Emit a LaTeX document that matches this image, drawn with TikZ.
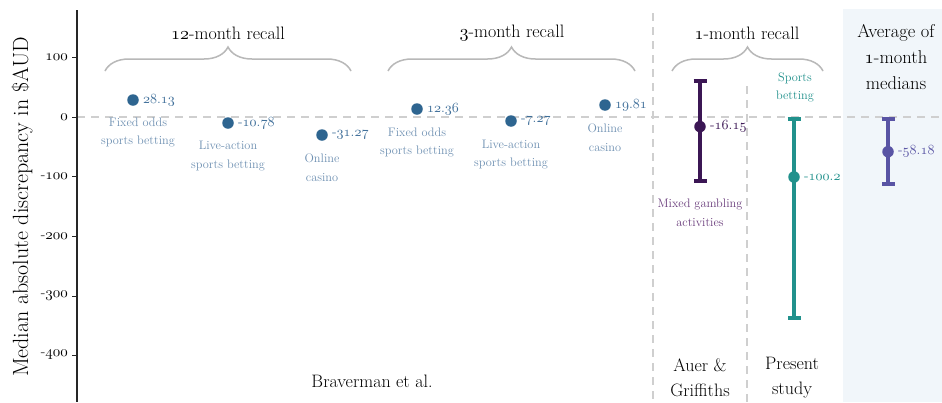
\documentclass[tikz,border=0pt]{standalone}
\usetikzlibrary{decorations.pathreplacing,arrows.meta}
\definecolor{ptblue}{HTML}{2E6590}
\definecolor{catblue}{HTML}{6E90B2}
\definecolor{valblue}{HTML}{3E6E99}
\definecolor{dpurple}{HTML}{3B1654}
\definecolor{mpurple}{HTML}{6A3D7C}
\definecolor{tealc}{HTML}{21918C}
\definecolor{avgc}{HTML}{5954A4}
\definecolor{bgblue}{HTML}{F1F6FA}
\definecolor{gridg}{HTML}{CFCFCF}
\definecolor{braceg}{HTML}{B8B8B8}
\DeclareFontFamily{OML}{osfdig}{}
\DeclareFontShape{OML}{osfdig}{m}{it}{<-> cmmi10}{}
\newcommand\osn[1]{{\usefont{OML}{osfdig}{m}{it}#1}}
\newcommand\dnum[2]{\osn{#1}.\osn{#2}}
\begin{document}
\begin{tikzpicture}[x=1pt,y=-1pt,
  pt/.style={circle,inner sep=0pt,minimum size=11.5pt},
  vlab/.style={anchor=west,inner sep=0pt,font=\fontsize{14}{16}\selectfont},
  catlab/.style={align=center,inner sep=0pt,font=\fontsize{12.3}{18.8}\selectfont,text=catblue},
  ttl/.style={align=center,inner sep=0pt,font=\fontsize{18}{25}\selectfont},
  ticklab/.style={anchor=east,inner sep=0pt,font=\fontsize{15}{16}\selectfont},
  gridl/.style={gridg,line width=1.4pt,dash pattern=on 8pt off 6pt},
  bracel/.style={braceg,line width=1.5pt,decorate,decoration={brace,amplitude=24pt}},
  ebar/.style={line width=4pt,{Bar[width=13pt,line width=4pt]}-{Bar[width=13pt,line width=4pt]}}
]
\useasboundingbox (0,0) rectangle (942,402);
\fill[white] (0,0) rectangle (942,402);
\fill[bgblue] (843,9) rectangle (942,402);
% grid lines
\coordinate (h0) at (77,117);
\coordinate (h1) at (942,117);
\draw[gridl] (h0) -- (h1);
\coordinate (va0) at (653,13);
\coordinate (va1) at (653,402);
\draw[gridl] (va0) -- (va1);
\coordinate (vb0) at (747,86);
\coordinate (vb1) at (747,402);
\draw[gridl] (vb0) -- (vb1);
% axis
\coordinate (ax0) at (77,10);
\coordinate (ax1) at (77,402);
\draw[line width=2.4pt,black!85] (ax0) -- (ax1);
\foreach \yy/\lab [count=\i] in {57/{\osn{100}},117/{\osn{0}},176/{-\osn{100}},236/{-\osn{200}},296/{-\osn{300}},355/{-\osn{400}}}{
  \coordinate (tk\i) at (77,\yy);
  \draw[line width=1pt,black!85] (tk\i) -- ++(-5,0);
  \node[ticklab] (tl\i) at (68,\yy) {\lab};
}
\node[rotate=90,inner sep=0pt,font=\fontsize{22}{24}\selectfont] (ylab) at (22,207) {Median absolute discrepancy in \$AUD};
% braces and titles
\coordinate (b1a) at (105,71); \coordinate (b1b) at (351,71);
\draw[bracel] (b1a) -- (b1b);
\node[ttl] (t1) at (228,33) {\osn{12}-month recall};
\coordinate (b2a) at (388,71); \coordinate (b2b) at (635,71);
\draw[bracel] (b2a) -- (b2b);
\node[ttl] (t2) at (512,33) {\osn{3}-month recall};
\coordinate (b3a) at (672,71); \coordinate (b3b) at (823,71);
\draw[bracel] (b3a) -- (b3b);
\node[ttl] (t3) at (747,33) {\osn{1}-month recall};
\node[ttl,font=\fontsize{18.5}{26}\selectfont] (t4) at (896,57) {Average of\\\osn{1}-month\\medians};
% Braverman points
\node[pt,fill=ptblue] (p1) at (133,100) {};
\node[vlab,text=valblue] (v1) at ([xshift=4pt]p1.east) {\dnum{28}{13}};
\node[catlab] (c1) at (138,132.5) {Fixed odds\\sports betting};
\node[pt,fill=ptblue] (p2) at (228,123) {};
\node[vlab,text=valblue] (v2) at ([xshift=4pt]p2.east) {-\dnum{10}{78}};
\node[catlab] (c2) at (228,156) {Live-action\\sports betting};
\node[pt,fill=ptblue] (p3) at (322,135) {};
\node[vlab,text=valblue] (v3) at ([xshift=4pt]p3.east) {-\dnum{31}{27}};
\node[catlab] (c3) at (322,168) {Online\\casino};
\node[pt,fill=ptblue] (p4) at (417,109) {};
\node[vlab,text=valblue] (v4) at ([xshift=4pt]p4.east) {\dnum{12}{36}};
\node[catlab] (c4) at (417,142.5) {Fixed odds\\sports betting};
\node[pt,fill=ptblue] (p5) at (511,121) {};
\node[vlab,text=valblue] (v5) at ([xshift=4pt]p5.east) {-\dnum{7}{27}};
\node[catlab] (c5) at (511,154.5) {Live-action\\sports betting};
\node[pt,fill=ptblue] (p6) at (605,105) {};
\node[vlab,text=valblue] (v6) at ([xshift=4pt]p6.east) {\dnum{19}{81}};
\node[catlab] (c6) at (605,137.5) {Online\\casino};
% Auer & Griffiths
\coordinate (at) at (700,79); \coordinate (ab) at (700,183);
\draw[ebar,dpurple] (at) -- (ab);
\node[pt,fill=dpurple] (pa) at (700,126.6) {};
\node[vlab,text=dpurple] (va) at ([xshift=4pt]pa.east) {-\dnum{16}{15}};
\node[catlab,text=mpurple] (ca) at (700,213) {Mixed gambling\\activities};
% Present study
\coordinate (st) at (794,117); \coordinate (sb) at (794,320);
\draw[ebar,tealc] (st) -- (sb);
\node[pt,fill=tealc] (ps) at (794,177) {};
\node[vlab,text=tealc] (vs) at ([xshift=4pt]ps.east) {-\dnum{100}{2}};
\node[catlab,text=tealc] (cs) at (795,87.5) {Sports\\betting};
% Average
\coordinate (gt) at (888,117); \coordinate (gb) at (888,186);
\draw[ebar,avgc] (gt) -- (gb);
\node[pt,fill=avgc] (pg) at (888,151.7) {};
\node[vlab,text=avgc] (vg) at ([xshift=4pt]pg.east) {-\dnum{58}{18}};
% bottom labels
\node[ttl] (l1) at (372,381) {Braverman et al.};
\node[ttl] (l2) at (700,377.5) {Auer \&\\Griffiths};
\node[ttl] (l3) at (792,377.5) {Present\\study};
\end{tikzpicture}
\end{document}
